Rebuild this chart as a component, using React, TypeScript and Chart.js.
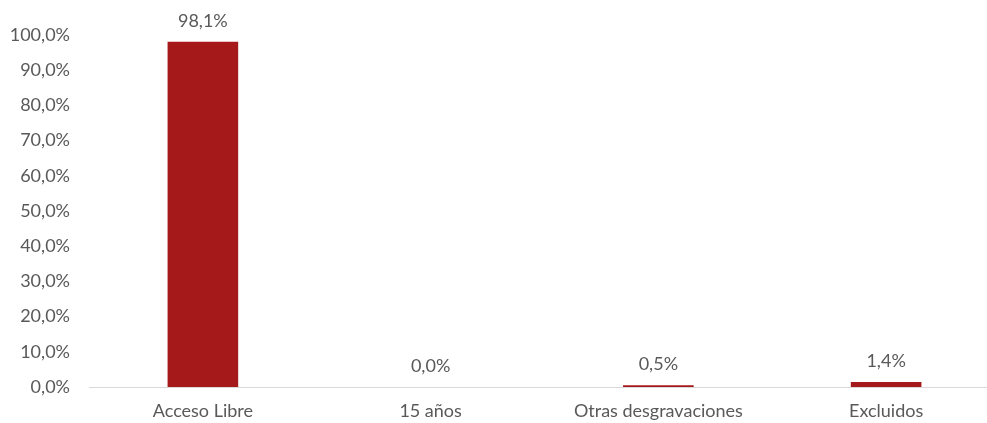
import React, { useEffect, useRef } from "react";
import { Chart, registerables } from "chart.js";

Chart.register(...registerables);

const categories = ["Acceso Libre", "15 años", "Otras desgravaciones", "Excluidos"];
const values = [98.1, 0.0, 0.5, 1.4];
const yTicks = [0, 10, 20, 30, 40, 50, 60, 70, 80, 90, 100];

const fmt = (v: number) => v.toFixed(1).replace(".", ",") + "%";

const FONT = "Lato";
const SIZE = 18;
const TEXT = "#595959";

const labelPlugin = {
  id: "valueLabels",
  afterDatasetsDraw(chart: any) {
    const ctx = chart.ctx;
    const meta = chart.getDatasetMeta(0);
    ctx.save();
    ctx.font = `${SIZE}px ${FONT}`;
    ctx.fillStyle = TEXT;
    ctx.textAlign = "center";
    ctx.textBaseline = "middle";
    meta.data.forEach((bar: any, i: number) => {
      ctx.fillText(fmt(values[i]), bar.x, bar.y - 21);
    });
    ctx.restore();
  },
};

export default function App() {
  const ref = useRef<HTMLCanvasElement | null>(null);
  useEffect(() => {
    document.body.style.margin = "0";
    const chart = new Chart(ref.current!, {
      type: "bar",
      data: {
        labels: categories,
        datasets: [
          {
            data: values,
            backgroundColor: "#A6191B",
            barPercentage: 1,
            categoryPercentage: 0.31,
          },
        ],
      },
      options: {
        animation: false,
        responsive: false,
        maintainAspectRatio: false,
        layout: { padding: { top: 35, right: 0, left: 0, bottom: 0 } },
        plugins: { legend: { display: false }, tooltip: { enabled: false } },
        scales: {
          y: {
            min: 0,
            max: 100,
            afterBuildTicks: (s: any) => {
              s.ticks = yTicks.map((v) => ({ value: v }));
            },
            afterFit: (s: any) => {
              s.width = 89;
            },
            grid: { display: false, drawTicks: false },
            border: { display: false },
            ticks: {
              color: TEXT,
              font: { family: FONT, size: SIZE },
              padding: 19,
              callback: (v: any) => fmt(Number(v)),
            },
          },
          x: {
            afterFit: (s: any) => {
              s.height = 36;
            },
            grid: { display: false, drawTicks: false },
            border: { display: true, color: "#D9D9D9", width: 1 },
            ticks: {
              color: TEXT,
              font: { family: FONT, size: SIZE },
              padding: 13,
            },
          },
        },
      },
      plugins: [labelPlugin],
    });
    return () => chart.destroy();
  }, []);
  return (
    <div style={{ width: 987, height: 423, overflow: "hidden", position: "relative" }}>
      <canvas ref={ref} width={1000} height={423} style={{ display: "block" }} />
    </div>
  );
}
